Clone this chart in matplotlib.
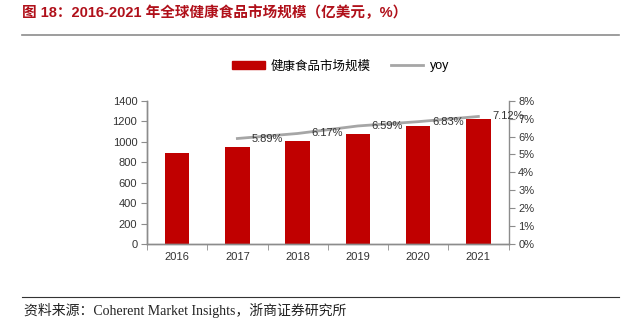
import matplotlib.pyplot as plt
import numpy as np
from matplotlib.lines import Line2D
from matplotlib.patches import Patch

plt.rcParams['font.family'] = ['Liberation Sans', 'Noto Sans CJK SC']

years = ['2016', '2017', '2018', '2019', '2020', '2021']
market = [889, 944, 1003, 1071, 1149, 1221]   # 亿美元
yoy_years = ['2017', '2018', '2019', '2020', '2021']
yoy = [5.89, 6.17, 6.59, 6.83, 7.12]           # %

red = '#C00000'
grey = '#A6A6A6'
spine_c = '#8C8C8C'

fig = plt.figure(figsize=(6.25, 3.23), dpi=100)
ax = fig.add_axes([0.2352, 0.2446, 0.5784, 0.4436])
ax2 = ax.twinx()

x = np.arange(len(years))
ax.bar(x, market, width=0.41, color=red, zorder=2)
ax.set_xlim(-0.5, len(years) - 0.5)
ax.set_ylim(0, 1400)
ax.set_yticks(range(0, 1401, 200))

# category labels centred, tick marks on the boundaries
ax.set_xticks(x)
ax.set_xticklabels(years)
ax.set_xticks(np.arange(-0.5, len(years), 1), minor=True)
ax.tick_params(axis='x', which='major', length=0, pad=6, labelsize=8, colors='#333333')
ax.tick_params(axis='x', which='minor', length=4, direction='out', color=spine_c)
ax.tick_params(axis='y', length=4, direction='out', color=spine_c, labelsize=8,
               labelcolor='#333333', pad=3)

xi = [years.index(y) for y in yoy_years]
ax2.plot(xi, yoy, color=grey, lw=2, zorder=3)
ax2.set_ylim(0, 8)
ax2.set_yticks(range(0, 9))
ax2.set_yticklabels([f'{v}%' for v in range(0, 9)])
ax2.tick_params(axis='y', length=4, direction='out', color=spine_c, labelsize=8,
                labelcolor='#333333', pad=3)
for xv, v in zip(xi, yoy):
    ax2.annotate(f'{v:.2f}%', (xv, v), xytext=(10, 0), textcoords='offset points',
                 ha='left', va='center', fontsize=8, color='#333333')

for a in (ax, ax2):
    a.spines['top'].set_visible(False)
    for s in ('left', 'right', 'bottom'):
        a.spines[s].set_color(spine_c)
        a.spines[s].set_linewidth(1)
ax.spines['right'].set_visible(False)

handles = [Patch(color=red), Line2D([], [], color=grey, lw=2)]
fig.legend(handles, ['健康食品市场规模', 'yoy'], loc='center', bbox_to_anchor=(0.545, 0.795),
           ncol=2, frameon=False, fontsize=9, handlelength=2.6, handleheight=0.55,
           columnspacing=1.6, handletextpad=0.5)

# title bar and source line
fig.text(0.035, 0.962, '图 18：2016-2021 年全球健康食品市场规模（亿美元，%）',
         ha='left', va='center', fontsize=10.5, fontweight='bold', color='#B0101A')
fig.add_artist(Line2D([0.035, 0.99], [0.893, 0.893], color='#8C8C8C', lw=1.2))
fig.add_artist(Line2D([0.035, 0.99], [0.081, 0.081], color='#333333', lw=0.8))
fig.text(0.039, 0.04, '资料来源：Coherent Market Insights，浙商证券研究所', ha='left', va='center',
         fontsize=10, color='#222222', family=['Liberation Serif', 'Noto Sans CJK SC'])

fig.savefig('out.png', dpi=100)
